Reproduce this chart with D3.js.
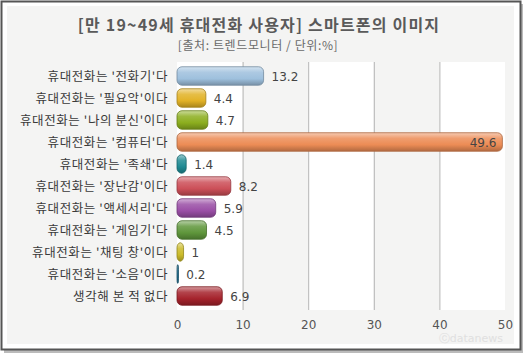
<!DOCTYPE html>
<html><head><meta charset="utf-8">
<script src="https://cdn.jsdelivr.net/npm/d3@7"></script>
<style>body{margin:0;background:#fff;}svg{display:block;}</style>
</head><body>
<script>
const categories = ["휴대전화는 '전화기'다","휴대전화는 '필요악'이다","휴대전화는 '나의 분신'이다","휴대전화는 '컴퓨터'다","휴대전화는 '족쇄'다","휴대전화는 '장난감'이다","휴대전화는 '액세서리'다","휴대전화는 '게임기'다","휴대전화는 '채팅 창'이다","휴대전화는 '소음'이다","생각해 본 적 없다"];
const values = [13.2,4.4,4.7,49.6,1.4,8.2,5.9,4.5,1,0.2,6.9];
const valueLabels = ["13.2","4.4","4.7","49.6","1.4","8.2","5.9","4.5","1","0.2","6.9"];
const barColors = ["#9ec0dd","#e2b227","#8cae1e","#ec8c55","#1f8a93","#cc4f58","#9a4ea6","#5f963b","#cbbb2a","#1d6b8c","#a5232c"];
const xTicks = [0,10,20,30,40,50];
const title = "[만 19~49세 휴대전화 사용자] 스마트폰의 이미지";
const subtitle = "[출처: 트렌드모니터 / 단위:%]";

const W=527,H=357;
const svg=d3.select("body").append("svg").attr("width",W).attr("height",H);
const defs=svg.append("defs");
const font="'Noto Sans CJK KR','Noto Sans',sans-serif";

// shadow + frame
svg.append("rect").attr("x",4).attr("y",4).attr("width",519).attr("height",349).attr("fill","#bbb");
svg.append("rect").attr("x",1.5).attr("y",1.5).attr("width",519).attr("height",348).attr("fill","#fff").attr("stroke","#555").attr("stroke-width",2);
svg.append("rect").attr("x",7).attr("y",6).attr("width",507).attr("height",338).attr("fill","#f4f4f3");

const x=d3.scaleLinear().domain([0,50]).range([177,505]);
const y=d3.scaleBand().domain(categories).range([65,307]).paddingInner(0.16).paddingOuter(0.08);
const plotTop=62, plotBot=310;

// alternating bands
const bands=d3.range(0,5);
svg.selectAll(".band").data(bands).enter().append("rect")
 .attr("x",d=>x(d*10)).attr("y",plotTop).attr("width",d=>x((d+1)*10)-x(d*10)).attr("height",plotBot-plotTop)
 .attr("fill",d=>d%2===0?"#ffffff":"#f4f4f3");
// gridlines
svg.selectAll(".grid").data(xTicks.filter(t=>t>0&&t<50)).enter().append("line")
 .attr("x1",d=>x(d)+0.5).attr("x2",d=>x(d)+0.5).attr("y1",plotTop).attr("y2",plotBot)
 .attr("stroke","#b4b4b4").attr("stroke-width",1);

// title
svg.append("text").attr("x",259).attr("y",31).attr("text-anchor","middle").attr("font-family",font)
 .attr("font-size",16).attr("font-weight","bold").attr("letter-spacing",1.2).attr("fill","#5a5a5a").text(title);
svg.append("text").attr("x",258).attr("y",50).attr("text-anchor","middle").attr("font-family",font)
 .attr("font-size",12).attr("letter-spacing",0.6).attr("fill","#6a6a6a").text(subtitle);

// gradients
barColors.forEach((c,i)=>{
  const g=defs.append("linearGradient").attr("id","g"+i).attr("x1",0).attr("y1",0).attr("x2",0).attr("y2",1);
  const base=d3.color(c);
  g.append("stop").attr("offset","0%").attr("stop-color",d3.interpolateRgb(c,"#fff")(0.55));
  g.append("stop").attr("offset","30%").attr("stop-color",d3.interpolateRgb(c,"#fff")(0.15));
  g.append("stop").attr("offset","65%").attr("stop-color",c);
  g.append("stop").attr("offset","100%").attr("stop-color",base.darker(0.8).formatHex());
});

const data=categories.map((c,i)=>({c,v:values[i],l:valueLabels[i],i}));
svg.selectAll(".bar").data(data).enter().append("rect")
 .attr("x",x(0)).attr("y",d=>y(d.c)).attr("width",d=>Math.max(1.5,x(d.v)-x(0)))
 .attr("height",y.bandwidth())
 .attr("rx",d=>Math.min(5,(x(d.v)-x(0))/2)).attr("ry",5)
 .attr("fill",(d)=>"url(#g"+d.i+")")
 .attr("stroke",d=>d3.color(barColors[d.i]).darker(0.9).formatHex()).attr("stroke-width",0.8);

// value labels
svg.selectAll(".val").data(data).enter().append("text")
 .attr("x",d=>d.v>40?x(d.v)-6:x(d.v)+8)
 .attr("y",d=>y(d.c)+y.bandwidth()/2+4.5)
 .attr("text-anchor",d=>d.v>40?"end":"start")
 .attr("font-family","'DejaVu Sans',sans-serif").attr("font-size",12).attr("fill","#444").text(d=>d.l);

// category labels
svg.selectAll(".cat").data(data).enter().append("text")
 .attr("x",168).attr("y",d=>y(d.c)+y.bandwidth()/2+4.5).attr("text-anchor","end")
 .attr("font-family",font).attr("font-size",12.5).attr("letter-spacing",0.6).attr("fill","#3a3a3a").text(d=>d.c);

// x axis
const ax=svg.append("g").attr("transform","translate(0,"+(plotBot)+")")
 .call(d3.axisBottom(x).tickValues(xTicks).tickSize(0).tickPadding(10).tickFormat(d3.format("d")));
ax.select(".domain").remove();
ax.selectAll("text").attr("font-family","'DejaVu Sans',sans-serif").attr("font-size",12).attr("fill","#555");

// watermark
svg.append("text").attr("x",503).attr("y",342).attr("text-anchor","end").attr("font-family","'DejaVu Sans',sans-serif")
 .attr("font-size",11).attr("fill","#e0e0e0").text("ⓒdatanews");
</script>
</body></html>
